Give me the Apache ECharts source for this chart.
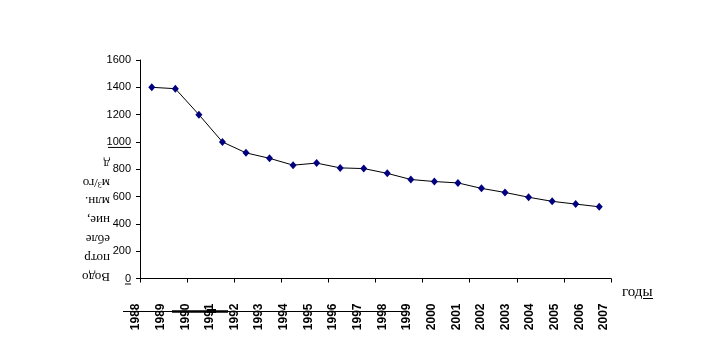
<!DOCTYPE html>
<html><head><meta charset="utf-8">
<script src="https://cdn.jsdelivr.net/npm/echarts@6/dist/echarts.min.js"></script>
<style>html,body{margin:0;padding:0;background:#fff}#c{width:721px;height:354px}</style>
</head><body><div id="c"></div>
<script>
var years = ['1988','1989','1990','1991','1992','1993','1994','1995','1996','1997','1998','1999','2000','2001','2002','2003','2004','2005','2006','2007'];
var consumption = [1400,1390,1200,1000,920,880,830,845,810,805,770,725,710,700,660,630,595,565,545,525];
var yTicks = [0,200,400,600,800,1000,1200,1400,1600];
var titleLines = ['Водо','потр','ебле','ние,','млн.','м{s|3}/го','д'];
var xUnit = 'годы';

var chart = echarts.init(document.getElementById('c'));
var sans = 'Liberation Sans, Arial, sans-serif';
var serif = 'Liberation Serif, Times New Roman, serif';
var option = {
  animation: false,
  backgroundColor: '#fff',
  grid: [
    {left: 140, right: 110, top: 60, bottom: 75.5},
    {left: 136, right: 117, top: 60, bottom: 75.5}
  ],
  xAxis: [
    {gridIndex: 0, type: 'category', data: years, boundaryGap: true,
     axisLine: {lineStyle: {color: '#000', width: 1}},
     axisTick: {show: true, inside: false, length: 4, lineStyle: {color: '#000'}},
     axisLabel: {show: false}},
    {gridIndex: 1, type: 'category', data: years, boundaryGap: false,
     axisLine: {show: false}, axisTick: {show: false},
     axisLabel: {rotate: 90, margin: 25, fontFamily: sans, fontSize: 12, fontWeight: 'bold', color: '#000', interval: 0}}
  ],
  yAxis: [
    {gridIndex: 0, type: 'value', min: yTicks[0], max: yTicks[yTicks.length - 1], interval: yTicks[1] - yTicks[0],
     axisLine: {show: true, lineStyle: {color: '#000'}},
     axisTick: {show: true, length: 4, lineStyle: {color: '#000'}},
     splitLine: {show: false},
     axisLabel: {margin: 9, fontFamily: sans, fontSize: 11, color: '#000',
       formatter: function (v) { return String(v); }}},
    {gridIndex: 1, type: 'value', min: 0, max: 1600, show: false}
  ],
  series: [{
    type: 'line', xAxisIndex: 0, yAxisIndex: 0, data: consumption,
    lineStyle: {color: '#000', width: 1},
    symbol: 'diamond', symbolSize: [7, 8],
    itemStyle: {color: '#000080'}
  }]
};
chart.setOption(option);

var g = [];
titleLines.forEach(function (t, i) {
  g.push({type: 'text', x: 110, y: 276 - i * 18.8, rotation: Math.PI,
    style: {text: t, font: '13px ' + serif, fill: '#000', textAlign: 'left', textVerticalAlign: 'middle',
      rich: {s: {fontSize: 8, fontFamily: serif, verticalAlign: 'top', fill: '#000'}}}});
});
g.push({type: 'text', x: 622, y: 292, style: {text: xUnit, font: '15px ' + serif, fill: '#000', textAlign: 'left', textVerticalAlign: 'middle'}});
g.push({type: 'line', shape: {x1: 643, y1: 298.5, x2: 653, y2: 298.5}, style: {stroke: '#000', lineWidth: 1}});
var p1000 = chart.convertToPixel({yAxisIndex: 0}, 1000);
var p0 = chart.convertToPixel({yAxisIndex: 0}, 0);
g.push({type: 'line', shape: {x1: 108, y1: p1000 + 5.5, x2: 131, y2: p1000 + 5.5}, style: {stroke: '#000', lineWidth: 1}});
g.push({type: 'line', shape: {x1: 125, y1: p0 + 5.5, x2: 131, y2: p0 + 5.5}, style: {stroke: '#000', lineWidth: 1}});
g.push({type: 'line', shape: {x1: 123, y1: 311.5, x2: 405, y2: 311.5}, style: {stroke: '#000', lineWidth: 1}});
g.push({type: 'line', shape: {x1: 172, y1: 311.5, x2: 228, y2: 311.5}, style: {stroke: '#000', lineWidth: 2.5}});
g.push({type: 'line', shape: {x1: 207, y1: 311, x2: 216, y2: 311}, style: {stroke: '#000', lineWidth: 4}});
chart.setOption({graphic: g});
</script>
</body></html>
